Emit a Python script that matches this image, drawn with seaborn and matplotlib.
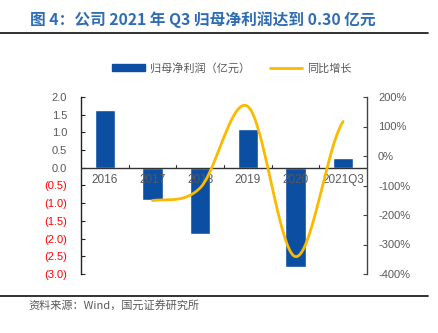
import numpy as np
import pandas as pd
import matplotlib
matplotlib.use("Agg")
import matplotlib.pyplot as plt
import seaborn as sns
from matplotlib.patches import Patch
from matplotlib.lines import Line2D

sns.set_style("white")
plt.rcParams['font.family'] = ['Noto Sans CJK SC', 'DejaVu Sans']
plt.rcParams['axes.unicode_minus'] = False

categories = ["2016", "2017", "2018", "2019", "2020", "2021Q3"]
profit = [1.63, -0.90, -1.87, 1.10, -2.80, 0.29]
growth_cats = ["2017", "2018", "2019", "2020", "2021Q3"]
growth = [-151, -108, 168, -341, 117]
left_ticks = [2.0, 1.5, 1.0, 0.5, 0.0, -0.5, -1.0, -1.5, -2.0, -2.5, -3.0]
right_ticks = [200, 100, 0, -100, -200, -300, -400]

BLUE = "#0B4EA2"
GOLD = "#FBB900"
GRAY = "#595959"
LAT = ['Liberation Sans', 'DejaVu Sans']

fig = plt.figure(figsize=(4.38, 3.33), dpi=100)
ax = fig.add_axes([81/438, 1-274/333, (367-81)/438, (274-97)/333])

df = pd.DataFrame({"cat": categories, "val": profit})
sns.barplot(data=df, x="cat", y="val", color=BLUE, width=0.42, ax=ax,
            saturation=1, order=categories)
ax.set_axisbelow(False)
ax.set_xlim(-0.5, 5.5)
ax.set_ylim(-3.0, 2.0)
ax.set_xlabel("")
ax.set_ylabel("")
ax.set_yticks(left_ticks)

def fmt(v):
    if v < 0:
        return "({:.1f})".format(-v)
    return "{:.1f}".format(v)

ax.set_yticklabels([fmt(v) for v in left_ticks], fontsize=8, family=LAT)
for lab, v in zip(ax.get_yticklabels(), left_ticks):
    lab.set_color("#FF0000" if v < 0 else GRAY)

for s in ["top", "right", "bottom"]:
    ax.spines[s].set_visible(False)
ax.spines["left"].set_color("#222222")
ax.spines["left"].set_linewidth(1.0)
ax.tick_params(axis="y", direction="in", length=3, width=0.8, pad=10, color="#222222")
# x axis at y = 0
ax.axhline(0, color="#333333", lw=1.0, zorder=3)
ax.set_xticks(range(len(categories)))
ax.set_xticklabels(categories, fontsize=8.5, color=GRAY, family=LAT)
ax.tick_params(axis="x", length=0, pad=-72)
# minor ticks between categories on the zero line
for xb in [0.5, 1.5, 2.5, 3.5, 4.5]:
    ax.plot([xb, xb], [0, 0.07], color="#333333", lw=0.8, zorder=3)

ax2 = ax.twinx()
ax2.set_ylim(-400, 200)
ax2.set_yticks(right_ticks)
ax2.set_yticklabels(["{}%".format(v) for v in right_ticks], fontsize=8, color=GRAY,
                    family=LAT)
ax2.tick_params(axis="y", direction="in", length=3, width=0.8, pad=8, color="#444444")
for s in ["top", "left", "bottom"]:
    ax2.spines[s].set_visible(False)
ax2.spines["right"].set_color("#444444")
ax2.spines["right"].set_linewidth(1.0)

# smooth line (Catmull-Rom through data points)
xs = np.array([categories.index(c) for c in growth_cats], dtype=float)
ys = np.array(growth, dtype=float)
px = np.concatenate([[2*xs[0]-xs[1]], xs, [2*xs[-1]-xs[-2]]])
py = np.concatenate([[ys[0]], ys, [ys[-1]]])
sx, sy = [], []
for i in range(1, len(px)-2):
    t = np.linspace(0, 1, 40)
    p0, p1, p2, p3 = px[i-1], px[i], px[i+1], px[i+2]
    q0, q1, q2, q3 = py[i-1], py[i], py[i+1], py[i+2]
    def cr(a0, a1, a2, a3):
        return 0.5*((2*a1) + (-a0+a2)*t + (2*a0-5*a1+4*a2-a3)*t**2 + (-a0+3*a1-3*a2+a3)*t**3)
    sx.extend(cr(p0, p1, p2, p3)); sy.extend(cr(q0, q1, q2, q3))
sns.lineplot(x=sx, y=sy, sort=False, color=GOLD, lw=2.0, ax=ax2)
ax2.set_xlim(-0.5, 5.5)

# legend
handles = [Patch(facecolor=BLUE, edgecolor=BLUE), Line2D([0], [0], color=GOLD, lw=2)]
fig.legend(handles, ["归母净利润（亿元）", "同比增长"], loc="center left",
           bbox_to_anchor=(108/438, 1-68/333), ncol=2, frameon=False, fontsize=8,
           labelcolor=GRAY, handlelength=2.9, handleheight=0.7, columnspacing=1.8,
           handletextpad=0.45, borderaxespad=0)

# title and rules
fig.text(30/438, 1-20/333, "图 4：公司 2021 年 Q3 归母净利润达到 0.30 亿元",
         fontsize=11.3, fontweight="bold", color="#2E6DB4", va="center", ha="left",
         family=['Noto Sans CJK SC', 'DejaVu Sans'])
fig.add_artist(Line2D([0, 428/438], [1-33/333, 1-33/333], color="#222222", lw=1.3))
fig.add_artist(Line2D([0, 428/438], [1-296/333, 1-296/333], color="#222222", lw=1.3))
fig.text(28/438, 1-305/333, "资料来源：Wind，国元证券研究所", fontsize=8, color=GRAY,
         va="center", ha="left")

fig.savefig("out.png", dpi=100)
